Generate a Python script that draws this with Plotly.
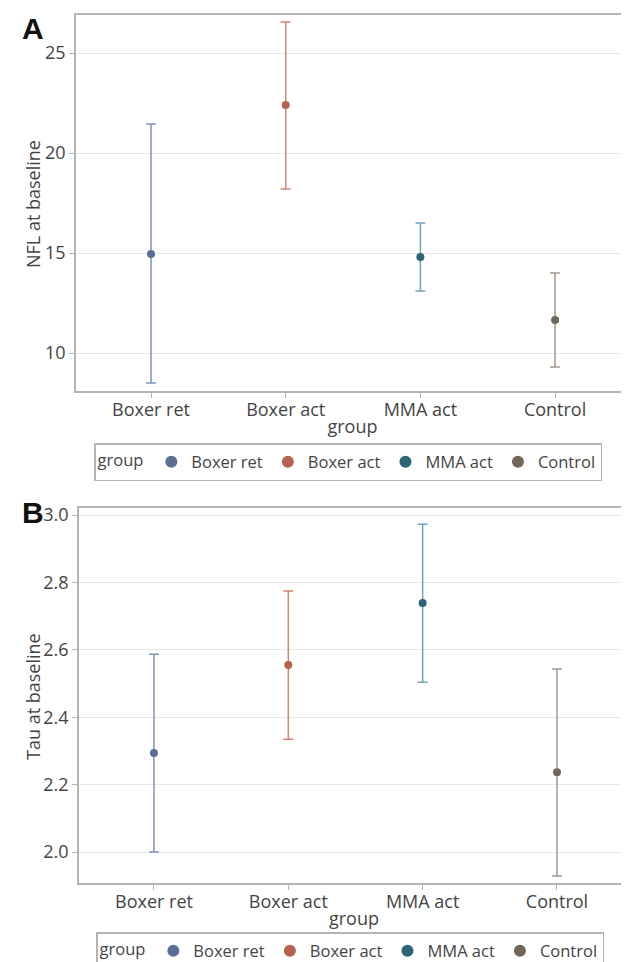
import plotly.graph_objects as go

groups = ["Boxer ret", "Boxer act", "MMA act", "Control"]
nfl_mean = [14.95, 22.4, 14.8, 11.65]
nfl_upper = [21.45, 26.55, 16.5, 14.0]
nfl_lower = [8.5, 18.2, 13.1, 9.3]
tau_mean = [2.294, 2.555, 2.739, 2.237]
tau_upper = [2.587, 2.775, 2.973, 2.543]
tau_lower = [2.0, 2.335, 2.504, 1.929]

marker_colors = ["#5A6E98", "#B4634F", "#2B6576", "#72655A"]
bar_colors = ["#8194BC", "#D38472", "#70A5B5", "#A6988C"]

# page body has an 8px default margin; lay the figure out in screen pixels
OFF = 8
W, H = 629 - OFF, 962 - OFF
FONT = "Open Sans"
TICKC = "#444444"
LINEC = "#B3B3B3"
GRIDC = "#E8E8E8"


def px_(p):
    return (p - OFF) / W


def py(p):
    return 1 - (p - OFF) / H


fig = go.Figure()
for i, g in enumerate(groups):
    fig.add_trace(go.Scatter(
        x=[g], y=[nfl_mean[i]], mode="markers", name=g,
        marker=dict(color=marker_colors[i], size=8),
        error_y=dict(type="data", symmetric=False,
                     array=[nfl_upper[i] - nfl_mean[i]],
                     arrayminus=[nfl_mean[i] - nfl_lower[i]],
                     color=bar_colors[i], thickness=1.5, width=5),
        xaxis="x", yaxis="y", legend="legend"))
for i, g in enumerate(groups):
    fig.add_trace(go.Scatter(
        x=[g], y=[tau_mean[i]], mode="markers", name=g,
        marker=dict(color=marker_colors[i], size=8),
        error_y=dict(type="data", symmetric=False,
                     array=[tau_upper[i] - tau_mean[i]],
                     arrayminus=[tau_mean[i] - tau_lower[i]],
                     color=bar_colors[i], thickness=1.5, width=5),
        xaxis="x2", yaxis="y2", legend="legend2"))

xcommon = dict(type="category", categoryorder="array", categoryarray=groups,
               showline=True, linecolor=LINEC, linewidth=1.5, mirror=True,
               ticks="outside", ticklen=5, tickcolor=LINEC, showgrid=False,
               ticklabelstandoff=-3,
               tickfont=dict(family=FONT, size=18, color=TICKC),
               title=dict(text="group", font=dict(family=FONT, size=18, color=TICKC), standoff=0),
               zeroline=False)
ycommon = dict(showline=True, linecolor=LINEC, linewidth=1.5, mirror=False,
               ticks="outside", ticklen=5, tickcolor=LINEC, showgrid=True,
               gridcolor=GRIDC, gridwidth=1,
               tickfont=dict(family=FONT, size=18, color=TICKC),
               zeroline=False)

legcommon = dict(orientation="h", xanchor="left", yanchor="top",
                 bordercolor=LINEC, borderwidth=1.5, bgcolor="white",
                 font=dict(family=FONT, size=16.5, color=TICKC),
                 title=dict(text="group", font=dict(family=FONT, size=16.5, color=TICKC)),
                 itemwidth=30, itemsizing="constant", tracegroupgap=0)

ytitle_font = dict(family=FONT, size=18, color=TICKC)

fig.update_layout(
    width=W, height=H,
    margin=dict(l=0, r=0, t=0, b=0, autoexpand=False),
    paper_bgcolor="white", plot_bgcolor="white",
    xaxis=dict(domain=[px_(76), 1.0], anchor="y", range=[-0.557, 3.549], **xcommon),
    yaxis=dict(domain=[py(391), py(15)], anchor="x", range=[8.1, 26.9],
               tickvals=[10, 15, 20, 25], **ycommon),
    xaxis2=dict(domain=[px_(79), 1.0], anchor="y2", range=[-0.558, 3.536], **xcommon),
    yaxis2=dict(domain=[py(883), py(508)], anchor="x2", range=[1.908, 3.021],
                tickvals=[2.0, 2.2, 2.4, 2.6, 2.8, 3.0], tickformat=".1f", **ycommon),
    legend=dict(x=px_(94), y=py(443), **legcommon),
    legend2=dict(x=px_(96), y=py(932), **legcommon),
    showlegend=True,
    annotations=[
        dict(text="<b>A</b>", x=px_(20), y=py(28), xref="paper", yref="paper",
             xanchor="left", yanchor="middle", showarrow=False,
             font=dict(family="Liberation Sans", size=30, color="#111111")),
        dict(text="<b>B</b>", x=px_(20), y=py(513), xref="paper", yref="paper",
             xanchor="left", yanchor="middle", showarrow=False,
             font=dict(family="Liberation Sans", size=30, color="#111111")),
        dict(text="NFL at baseline", textangle=-90, x=px_(33), y=py(204),
             xref="paper", yref="paper", xanchor="center", yanchor="middle",
             showarrow=False, font=ytitle_font),
        dict(text="Tau at baseline", textangle=-90, x=px_(33), y=py(697),
             xref="paper", yref="paper", xanchor="center", yanchor="middle",
             showarrow=False, font=ytitle_font),
    ],
)

fig.write_html("out.html")
